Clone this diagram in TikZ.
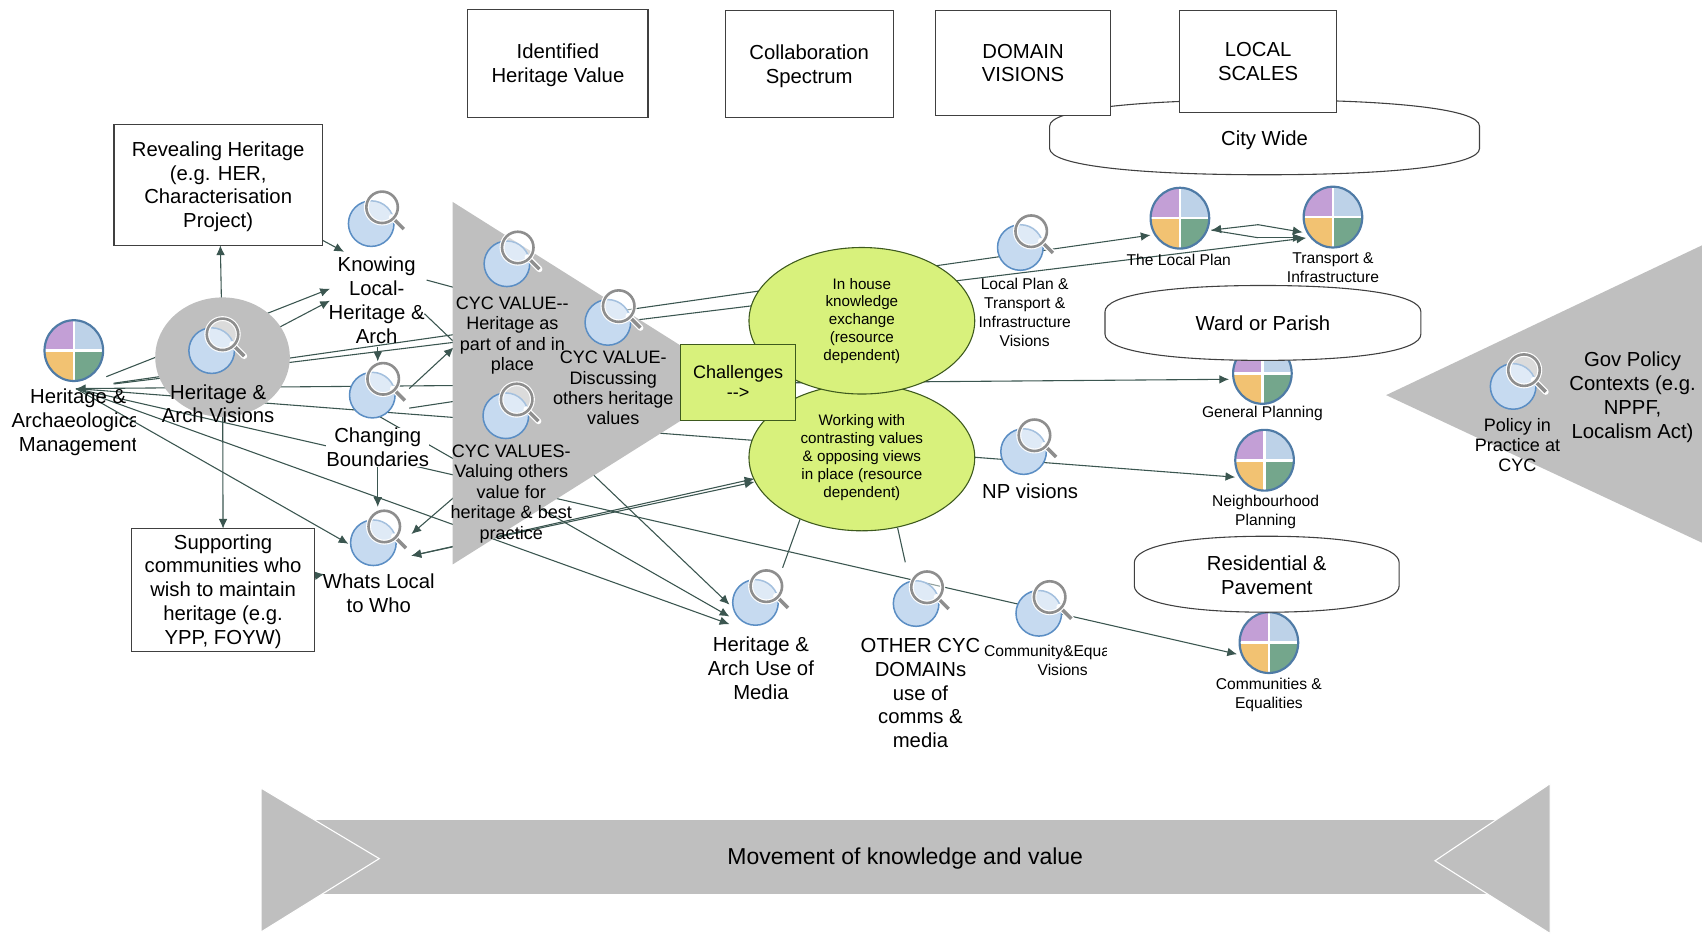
\documentclass[tikz,border=0pt]{standalone}
\usepackage{xcolor}
\usepackage{fontspec}
\setmainfont{Liberation Sans}
\usetikzlibrary{shapes.geometric,arrows.meta}

\definecolor{linecol}{HTML}{3B5650}
\definecolor{boxcol}{HTML}{404040}
\definecolor{bandgrey}{HTML}{BFBFBF}
\definecolor{limefill}{HTML}{D8F17C}
\definecolor{limeline}{HTML}{3E5A1E}
\definecolor{lensfill}{HTML}{C6DAF0}
\definecolor{lensline}{HTML}{5B8EC4}
\definecolor{lensgrey}{HTML}{8E8E8E}
\definecolor{piepurple}{HTML}{C39FD6}
\definecolor{pieblue}{HTML}{BDD2E8}
\definecolor{pieorange}{HTML}{F2C272}
\definecolor{piegreen}{HTML}{74A68C}
\definecolor{pieline}{HTML}{4F7BA6}

\tikzset{
  bigtext/.style={align=center,inner sep=0pt,font=\fontsize{18.7}{22}\selectfont},
  midtext/.style={align=center,inner sep=0pt,font=\fontsize{16.6}{18.8}\selectfont},
  smalltext/.style={align=center,inner sep=0pt,font=\fontsize{14.4}{17.5}\selectfont},
  blobtext/.style={align=center,inner sep=0pt,font=\fontsize{14}{16.4}\selectfont},
  sbox/.style={bigtext,draw=boxcol,fill=white,line width=1pt},
  blob/.style={blobtext,ellipse,draw=limeline,fill=limefill,line width=1pt,minimum width=208pt,minimum height=135pt},
  link/.style={draw=linecol,line width=1pt},
  arrow/.style={link,-{Latex[length=9pt,width=8pt]}},
  twoway/.style={link,{Latex[length=9pt,width=8pt]}-{Latex[length=9pt,width=8pt]}},
  lensbase/.style={circle,draw=lensline,fill=lensfill,line width=1.4pt,minimum size=42pt,inner sep=0pt},
  piebase/.style={circle,minimum size=62pt,inner sep=0pt}
}

\newcommand{\lensicon}[3]{
  \node[lensbase] (#1) at (#2,#3) {};
  \begin{scope}[shift={(#2,#3)}]
    \draw[white,line width=5.5pt,line cap=round] (19,-6) -- (30,5);
    \draw[lensgrey,line width=3.2pt] (19,-6) -- (30,5);
    \draw[white,line width=4.5pt] (10,-15) circle (14.5);
    \draw[lensgrey,line width=2.4pt,fill=white,fill opacity=.45] (10,-15) circle (14.5);
  \end{scope}
}
\newcommand{\pieicon}[3]{
  \node[piebase] (#1) at (#2,#3) {};
  \begin{scope}[shift={(#2,#3)}]
    \begin{scope}
      \clip (0,0) ellipse (27 and 28);
      \fill[piepurple] (-28,-29) rectangle (0,0);
      \fill[pieblue] (28,-29) rectangle (0,0);
      \fill[pieorange] (-28,29) rectangle (0,0);
      \fill[piegreen] (28,29) rectangle (0,0);
      \draw[white,line width=2.4pt] (-28,0) -- (28,0) (0,-29) -- (0,29);
    \end{scope}
    \draw[pieline,line width=2pt] (0,0) ellipse (27 and 28);
  \end{scope}
}
\newcommand{\scalepill}[4]{
  \draw[boxcol,fill=white,line width=1pt,shift={(#1,#2)}] (-#3,-0.3*#4) .. controls (-#3,-0.75*#4) and (-0.6*#3,-#4) .. (0,-#4)
    .. controls (0.6*#3,-#4) and (#3,-0.75*#4) .. (#3,-0.3*#4) -- (#3,0.3*#4)
    .. controls (#3,0.75*#4) and (0.6*#3,#4) .. (0,#4)
    .. controls (-0.6*#3,#4) and (-#3,0.75*#4) .. (-#3,0.3*#4) -- cycle;
}

\begin{document}
\begin{tikzpicture}[x=1pt,y=-1pt]
  \useasboundingbox (0,0) rectangle (1568,860);

  % end points that no node gives
  \coordinate (hamport) at (70,358);
  \coordinate (havmid) at (205,329);
  \coordinate (knowtip) at (317,232);
  \coordinate (knowwest) at (304,266);
  \coordinate (knowlow) at (304,277);
  \coordinate (knowbase) at (348,320);
  \coordinate (chgtop) at (348,333);
  \coordinate (knowout) at (393,258);
  \coordinate (knowin) at (430,268);
  \coordinate (knowcross) at (391,289);
  \coordinate (chgup) at (377,358);
  \coordinate (chguptip) at (418,320);
  \coordinate (chgflat) at (377,376);
  \coordinate (chgflatin) at (430,368);
  \coordinate (chgport) at (343,380);
  \coordinate (whatstip) at (321,501);
  \coordinate (whatstop) at (348,467);
  \coordinate (cycdown) at (430,448);
  \coordinate (whatshigh) at (379,492);
  \coordinate (whatsside) at (379,512);
  \coordinate (worktip) at (695,441);
  \coordinate (worktipb) at (695,444);
  \coordinate (mediaa) at (672,557);
  \coordinate (mediab) at (672,568);
  \coordinate (mediac) at (672,575);
  \coordinate (mediatop) at (721,523);
  \coordinate (othertop) at (834,518);
  \coordinate (suptip) at (299,529);
  \coordinate (lpside) at (1116,212);
  \coordinate (lpupper) at (1159,207);
  \coordinate (lplower) at (1159,219);
  \coordinate (trupper) at (1200,214);
  \coordinate (trlower) at (1200,219);

  \pieicon{ham}{68}{323}
  \pieicon{localplan}{1087}{201}
  \pieicon{transport}{1228}{200}
  \pieicon{general}{1163}{344}
  \pieicon{neighbour}{1165}{424}
  \pieicon{communities}{1169}{592}

  \scalepill{1165}{126.5}{198}{34.5}
  \scalepill{1163.5}{297.5}{145.5}{34.5}
  \scalepill{1167}{529}{122}{35}

  \draw[arrow,shorten <=35pt] (hamport) -- (localplan.210);
  \draw[arrow,shorten <=35pt] (hamport) -- (transport.218);
  \draw[twoway] (hamport) -- (general.190);
  \draw[arrow] (hamport) -- (neighbour.210);
  \draw[arrow] (hamport) -- (communities.200);
  \draw[arrow] (hamport) -- (mediac);
  \draw[arrow] (hamport) -- (whatstip);
  \draw[arrow,shorten <=30pt] (hamport) -- (knowwest);
  \draw[arrow] (havmid) -- (knowlow);
  \draw[arrow] (havmid) -- (203,226);
  \draw[arrow] (havmid) -- (205.5,487);
  \draw[arrow] (201,170) -- (knowtip);
  \draw[arrow] (205.5,543.5) -- (suptip);
  \draw[link] (knowout) -- (knowin);
  \draw[arrow] (knowcross) -- (mediaa);
  \draw[arrow] (knowbase) -- (chgtop);
  \draw[arrow] (chgup) -- (chguptip);
  \draw[link] (chgflat) -- (chgflatin);
  \draw[arrow] (chgport) -- (mediab);
  \draw[arrow] (348,412) -- (whatstop);
  \draw[arrow] (cycdown) -- (whatshigh);
  \draw[twoway] (whatsside) -- (worktip);
  \draw[twoway] (whatsside) -- (worktipb);
  \draw[link] (lplower) -- (lpside);
  \draw[arrow] (lpupper) -- (lpside);
  \draw[arrow] (lpupper) -- (trupper);
  \draw[arrow] (lplower) -- (trlower);

  \fill[bandgrey] (205,329) ellipse (62 and 55);
  \fill[bandgrey] (417,186) -- (417,520) -- (682,353) -- cycle;
  \fill[bandgrey] (1277,364) -- (1568,226) -- (1568,500) -- cycle;
  \fill[bandgrey] (285,755.5) rectangle (1385,823.5);
  \draw[white,fill=bandgrey,line width=1pt] (240.5,726) -- (349.4,791) -- (240.5,858.6) -- cycle;
  \draw[white,fill=bandgrey,line width=1pt] (1428,722) -- (1322,793) -- (1428,860) -- cycle;

  \node[blob] (working) at (794,421.5) {Working with\\contrasting values\\\& opposing views\\in place (resource\\dependent)};
  \node[blob] (inhouse) at (794,295.5) {In house\\knowledge\\exchange\\(resource\\dependent)};
  \draw[link] (working.225) -- (mediatop);
  \draw[link] (working.297) -- (othertop);
  \node[midtext,draw=limeline,fill=limefill,line width=1pt,minimum width=106pt,minimum height=70pt] (challenges) at (680,352) {Challenges\\-{}->};

  \node[sbox,minimum width=166pt,minimum height=99pt] (identified) at (514,58.5) {};
  \node[bigtext] (identifiedtext) at (514,60) {Identified\\Heritage Value};
  \node[sbox,minimum width=155pt,minimum height=98pt] (spectrum) at (745.5,59) {};
  \node[bigtext] (spectrumtext) at (745.5,61) {Collaboration\\Spectrum};
  \node[sbox,minimum width=161pt,minimum height=96pt] (domain) at (942.5,58) {DOMAIN\\VISIONS};
  \node[sbox,minimum width=144pt,minimum height=94pt] (local) at (1159,57) {LOCAL\\SCALES};
  \node[sbox,minimum width=192pt,minimum height=111pt] (revealing) at (201,170.5) {};
  \node[bigtext] (revealingtext) at (201,172) {Revealing Heritage\\(e.g. HER,\\Characterisation\\Project)};
  \node[sbox,minimum width=169pt,minimum height=113pt] (supporting) at (205.5,543.5) {};
  \node[bigtext] (supportingtext) at (205.5,545) {Supporting\\communities who\\wish to maintain\\heritage (e.g.\\YPP, FOYW)};

  \node[bigtext] (citywide) at (1165,129) {City Wide};
  \node[bigtext] (wardparish) at (1163.5,298) {Ward or Parish};
  \node[bigtext] (residential) at (1167,530) {Residential \&\\Pavement};
  \node[font=\fontsize{21.2}{24}\selectfont,inner sep=0pt] (movement) at (834,791) {Movement of knowledge and value};

  \lensicon{knowing}{342}{206}
  \lensicon{hav}{195}{323}
  \lensicon{changing}{343}{364}
  \lensicon{whats}{344}{500}
  \lensicon{cycone}{467}{243}
  \lensicon{cyctwo}{560}{297}
  \lensicon{cycthree}{466}{383}
  \lensicon{lpvisions}{940}{228}
  \lensicon{npvisions}{943}{416}
  \lensicon{policy}{1394}{356}
  \lensicon{media}{696}{555}
  \lensicon{other}{844}{556}
  \lensicon{community}{957}{565}

  \begin{scope}
    \clip (0,350) rectangle (125,425);
    \node[bigtext] (hamlabel) at (72,389) {Heritage \&\\Archaeological\\Management};
  \end{scope}
  \begin{scope}
    \clip (900,588) rectangle (1019,628);
    \node[smalltext] (communitylabel) at (979,608) {Community\&Equalities\\Visions};
  \end{scope}
  \node[bigtext] (havlabel) at (201,372) {Heritage \&\\Arch Visions};
  \node[bigtext] (knowinglabel) at (347,276.5) {Knowing\\Local-\\Heritage \&\\Arch};
  \node[bigtext,fill=white] (changinglabel) at (348,412) {Changing\\Boundaries};
  \node[bigtext] (whatslabel) at (349,546.5) {Whats Local\\to Who};
  \node[midtext] (cyconelabel) at (472,309) {CYC VALUE-{}-\\Heritage as\\part of and in\\place};
  \node[midtext] (cyctwolabel) at (565,357.5) {CYC VALUE-\\Discussing\\others heritage\\values};
  \node[midtext] (cycthreelabel) at (471,455) {CYC VALUES-\\Valuing others\\value for\\heritage \& best\\practice};
  \node[smalltext] (lpvisionslabel) at (944,288) {Local Plan \&\\Transport \&\\Infrastructure\\Visions};
  \node[bigtext] (nplabel) at (949,453) {NP visions};
  \node[smalltext] (lplabel) at (1086,239) {The Local Plan};
  \node[smalltext] (transportlabel) at (1228,247) {Transport \&\\Infrastructure};
  \node[smalltext] (generallabel) at (1163,381) {General Planning};
  \node[smalltext] (neighbourlabel) at (1166,472) {Neighbourhood\\Planning};
  \node[smalltext] (communitieslabel) at (1169,640.5) {Communities \&\\Equalities};
  \node[bigtext] (medialabel) at (701,615.5) {Heritage \&\\Arch Use of\\Media};
  \node[bigtext] (otherlabel) at (848,638.5) {OTHER CYC\\DOMAINs\\use of\\comms \&\\media};
  \node[midtext] (policylabel) at (1398,410) {Policy in\\Practice at\\CYC};
  \node[bigtext] (govlabel) at (1504,366) {Gov Policy\\Contexts (e.g.\\NPPF,\\Localism Act)};
\end{tikzpicture}
\end{document}
